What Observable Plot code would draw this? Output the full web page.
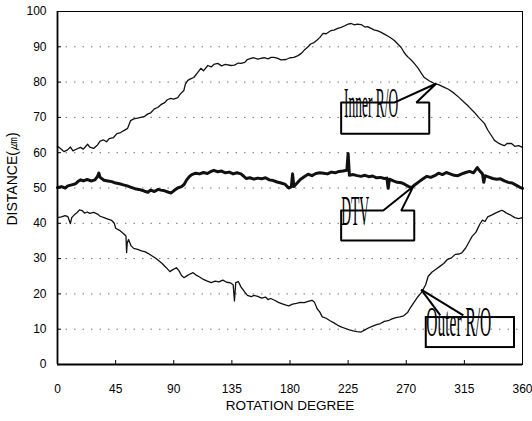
<!DOCTYPE html>
<html><head><meta charset="utf-8">
<script src="https://cdn.jsdelivr.net/npm/d3@7"></script>
<script src="https://cdn.jsdelivr.net/npm/@observablehq/plot@0.6"></script>
<style>body{margin:0;background:#fff}</style>
</head><body><div id="chart"></div>
<script>
const xTicks = [0,45,90,135,180,225,270,315,360];
const yTicks = [0,10,20,30,40,50,60,70,80,90,100];
const gridTicks = [10,20,30,40,50,60,70,80,90];
const xTitle = "ROTATION DEGREE";
const yTitle = "DISTANCE(㎛)";

// [rotation degree, distance]
const innerRO = [[0,61.8],[3,61.0],[5,60.3],[7.8,60.8],[10,61.6],[12,60.5],[14,60.9],[17.8,61.5],[20,61.0],[23.3,62.4],[25,61.6],[27.9,61.2],[31,62.2],[33,63.3],[35.7,63.6],[38,63.1],[40,64.0],[43.4,64.3],[46,65.4],[48.9,65.7],[51,66.2],[54.3,66.9],[56.6,69.1],[59,69.6],[62,69.8],[64.4,70.0],[67,70.2],[70,71.0],[72.2,71.3],[75,72.4],[77.6,72.8],[80,73.6],[83,74.2],[85,75.0],[87.7,75.4],[90,75.2],[93.1,75.6],[95,76.6],[97.8,77.6],[99,79.4],[100.9,80.5],[103,80.9],[105.5,81.3],[108,82.5],[111,83.9],[113,83.2],[116.4,84.7],[119,84.3],[121,85.0],[124.1,85.3],[127,84.6],[130,85.0],[134.2,84.7],[137,84.8],[140,85.4],[142,85.3],[145,85.6],[147,86.4],[149.7,86.7],[152,86.9],[155,86.5],[157.5,86.7],[160,86.9],[163,86.6],[165.3,87.0],[167.6,87.0],[170,86.8],[173,86.3],[176.9,86.4],[180,86.9],[183,87.0],[186.2,87.5],[189,88.2],[190.9,89.0],[194,90.0],[196,90.8],[198.6,91.2],[201,91.9],[203,92.6],[205.6,93.8],[208,93.7],[211.8,94.6],[214,94.7],[217,95.2],[219.6,95.5],[222,95.9],[225,96.4],[227.3,96.6],[230,96.2],[232,96.4],[235.1,96.3],[238,95.6],[240,95.7],[242.8,95.2],[245,94.8],[248,94.5],[250.6,94.1],[253,93.6],[256,93.0],[258.4,92.4],[261,91.7],[264,90.6],[266.1,89.8],[268,88.6],[270,87.6],[271.6,87.0],[274,86.2],[276.2,85.3],[279.3,83.9],[282,82.3],[284,81.3],[288,80.3],[291.7,79.6],[295,79.3],[299.5,78.5],[303,77.9],[307.2,76.8],[311,75.6],[315,74.2],[318,73.2],[322.8,71.4],[326,70.0],[330.5,68.3],[333,66.5],[336,64.8],[338.3,63.5],[341,62.8],[343.7,62.3],[346,62.0],[348,62.6],[351.5,62.6],[354,61.8],[357,62.0],[360,61.5]];

const dtv = [[0,50.1],[3,50.4],[6,50.0],[8,50.6],[11,50.9],[14,51.2],[16,51.9],[18,52.3],[20,52.0],[23,52.4],[26,52.0],[29,52.3],[31,53.3],[32,54.2],[33,53.0],[36,52.2],[39,52.0],[42,51.8],[45,51.4],[48,51.2],[51,50.9],[54,50.6],[57,50.2],[60,49.8],[63,49.6],[66,49.3],[68,49.0],[70,48.8],[72,49.4],[75,49.0],[78,49.6],[80,49.4],[83,49.2],[86,48.8],[88,48.6],[90,49.2],[93,50.0],[96,50.4],[98,51.0],[100,52.3],[102,53.2],[104,53.8],[107,54.2],[110,54.0],[113,54.4],[116,54.1],[119,54.7],[121,55.0],[124,54.6],[127,54.8],[130,54.3],[133,54.5],[136,54.0],[139,54.3],[142,54.0],[144,53.4],[146,52.7],[149,52.9],[152,52.5],[155,52.8],[158,52.6],[161,52.9],[164,52.3],[167,52.1],[170,51.7],[173,51.4],[176,51.1],[179,50.0],[181,50.3],[182,54.0],[183,50.4],[185,51.2],[188,52.4],[191,53.2],[194,53.9],[197,53.5],[200,54.1],[203,54.3],[206,54.2],[209,54.0],[212,54.5],[215,54.3],[218,54.7],[221,54.8],[224,55.0],[225,59.8],[226,53.6],[229,53.8],[232,53.5],[235,53.3],[238,53.6],[241,53.2],[244,53.4],[247,52.9],[250,53.0],[253,52.7],[255,52.8],[256,49.9],[257,52.5],[260,52.0],[263,51.6],[266,51.5],[269,51.0],[272,50.4],[274,50.1],[277,51.0],[280,51.8],[283,52.6],[286,53.3],[289,53.0],[292,53.5],[295,54.2],[298,53.8],[301,54.4],[304,54.0],[307,53.6],[310,53.5],[313,54.0],[316,54.4],[319,54.7],[322,54.3],[325,55.8],[327,54.8],[329,54.0],[330,51.6],[331,53.5],[334,53.1],[337,52.7],[340,52.5],[343,52.6],[346,52.0],[349,51.6],[352,51.4],[355,50.8],[358,50.2],[360,49.9]];

const outerRO = [[0,41.6],[3,41.8],[6,42.2],[8,41.9],[10,39.9],[11,41.6],[13,42.4],[15,43.0],[17,43.8],[19,43.6],[21,42.9],[23,43.2],[25,42.8],[28,43.1],[31,42.6],[33,42.0],[36,41.6],[39,41.2],[42,40.8],[44,40.0],[45,38.6],[48,38.0],[51,37.1],[53,36.4],[53.5,31.7],[54,34.5],[55,35.4],[57,33.6],[59,32.9],[62,32.6],[65,32.2],[68,31.9],[70,31.5],[73,30.8],[76,30.1],[78,29.5],[81,28.6],[84,27.5],[87,26.3],[89,26.8],[92,27.4],[94,26.6],[96,25.2],[98,24.6],[100,25.1],[103,25.7],[105,26.0],[107,25.4],[110,24.8],[113,24.1],[116,23.6],[119,23.2],[122,23.6],[125,23.4],[128,23.9],[131,23.3],[134,23.1],[136,22.6],[137,18.0],[138,23.2],[140,23.5],[142,22.0],[145,20.5],[147,19.6],[150,19.2],[152,19.6],[155,19.3],[158,18.8],[161,19.1],[163,18.4],[165,18.7],[168,18.2],[171,17.6],[174,17.2],[177,16.8],[179,16.6],[182,17.1],[185,17.3],[188,17.6],[191,17.5],[194,17.9],[197,18.2],[199,17.6],[201,15.8],[203,14.9],[205,13.5],[208,13.1],[211,12.4],[214,11.8],[217,11.1],[220,10.6],[223,10.2],[226,9.8],[229,9.5],[232,9.3],[235,9.2],[238,9.8],[241,10.4],[244,10.9],[247,11.3],[250,11.6],[253,12.2],[256,12.4],[259,12.9],[262,13.3],[265,13.5],[268,13.8],[271,14.7],[273,16.0],[276,17.6],[279,19.2],[282,20.5],[285,22.6],[287,25.0],[290,26.2],[293,27.0],[296,27.8],[299,28.6],[302,29.8],[305,30.2],[308,31.2],[311,31.3],[313,31.6],[316,33.0],[319,35.0],[321,36.3],[324,37.5],[327,39.8],[329,40.9],[331,40.5],[333,41.8],[336,42.3],[339,42.9],[342,43.4],[344,43.7],[346,43.3],[348,42.8],[351,42.3],[354,41.6],[357,41.3],[360,41.6]];

// callout annotations (data coordinates)
const calloutLabels = ["Inner R/O","DTV","Outer R/O"];
const calloutLabelX = [221.9,219.6,285.5];
const calloutLabelY = [70.0,39.4,8.2];
const innerCallout = [[219.6,74.2],[260.7,74.2],[293.3,79.6],[277.8,74.2],[287.8,74.2],[287.8,65.4],[219.6,65.4],[219.6,74.2]];
const dtvCallout = [[219.6,43.6],[252.2,43.6],[275.4,50.4],[266.1,43.6],[276.2,43.6],[276.2,35.1],[219.6,35.1],[219.6,43.6]];
const outerBox = [[285.5,353.8,4.8,13.3]];
const outerPointer = [[281.6,21.2,296.4,13.9],[281.6,21.2,314.2,13.9]];

// styles
const calloutWidths = [54,28,65];
const calloutStretchY = 3;

const labels = calloutLabels.map((t,i)=>({t, x:calloutLabelX[i], y:calloutLabelY[i]}));

const plot = Plot.plot({
  width:532, height:421,
  marginLeft:57, marginRight:10, marginTop:11, marginBottom:57,
  style:{fontFamily:"'Liberation Sans', Arial, sans-serif", fontSize:"12px", background:"#fff", color:"#000", overflow:"visible"},
  x:{domain:[0,360]},
  y:{domain:[0,100]},
  marks:[
    Plot.gridY(gridTicks,{stroke:"#666", strokeOpacity:0.9, strokeWidth:1, strokeDasharray:"1.5,7"}),
    Plot.line(innerRO,{x:d=>d[0], y:d=>d[1], stroke:"#111", strokeWidth:1.3}),
    Plot.line(outerRO,{x:d=>d[0], y:d=>d[1], stroke:"#111", strokeWidth:1.3}),
    Plot.line(dtv,{x:d=>d[0], y:d=>d[1], stroke:"#111", strokeWidth:3}),
    Plot.frame({stroke:"#000", strokeWidth:1}),
    Plot.ruleX([0],{stroke:"#000", strokeWidth:1.8}),
    Plot.ruleY([0],{stroke:"#000", strokeWidth:1.8}),
    Plot.axisX(xTicks,{tickSize:0, tickPadding:20, label:null, fontSize:12}),
    Plot.axisX(xTicks,{tickSize:4, dy:-4, text:null, label:null}),
    Plot.axisY(yTicks,{tickSize:0, tickPadding:11, label:null, fontSize:12}),
    Plot.axisY(yTicks,{tickSize:4, dx:4, text:null, label:null}),
    Plot.text([xTitle],{frameAnchor:"bottom", textAnchor:"middle", dy:45, lineAnchor:"bottom", fontSize:13.5}),
    Plot.text([yTitle],{frameAnchor:"left", textAnchor:"middle", rotate:-90, dx:-45, dy:-9, lineAnchor:"middle", fontSize:14}),
    Plot.line(innerCallout,{x:d=>d[0], y:d=>d[1], stroke:"#000", strokeWidth:2, strokeLinejoin:"miter"}),
    Plot.line(dtvCallout,{x:d=>d[0], y:d=>d[1], stroke:"#000", strokeWidth:2, strokeLinejoin:"miter"}),
    Plot.rect(outerBox,{x1:d=>d[0], x2:d=>d[1], y1:d=>d[2], y2:d=>d[3], fill:"none", stroke:"#000", strokeWidth:2}),
    Plot.link(outerPointer,{x1:d=>d[0], y1:d=>d[1], x2:d=>d[2], y2:d=>d[3], stroke:"#000", strokeWidth:2}),
    Plot.text(labels,{x:"x", y:"y", text:"t", textAnchor:"start", lineAnchor:"bottom", fontSize:14, fontFamily:"'Liberation Serif','Times New Roman',serif", fill:"#000"})
  ]
});

d3.select(plot).selectAll("text").each(function(){
  const i = calloutLabels.indexOf(this.textContent);
  if (i < 0) return;
  this.setAttribute("textLength", calloutWidths[i]);
  this.setAttribute("lengthAdjust", "spacingAndGlyphs");
  const t = this.getAttribute("transform");
  if (t) {
    this.setAttribute("transform", t + ` scale(1,${calloutStretchY})`);
  } else {
    const x = +this.getAttribute("x") || 0, y = +this.getAttribute("y") || 0;
    this.removeAttribute("x"); this.removeAttribute("y");
    this.setAttribute("transform", `translate(${x},${y}) scale(1,${calloutStretchY})`);
  }
});

document.getElementById("chart").appendChild(plot);
</script>
</body></html>
